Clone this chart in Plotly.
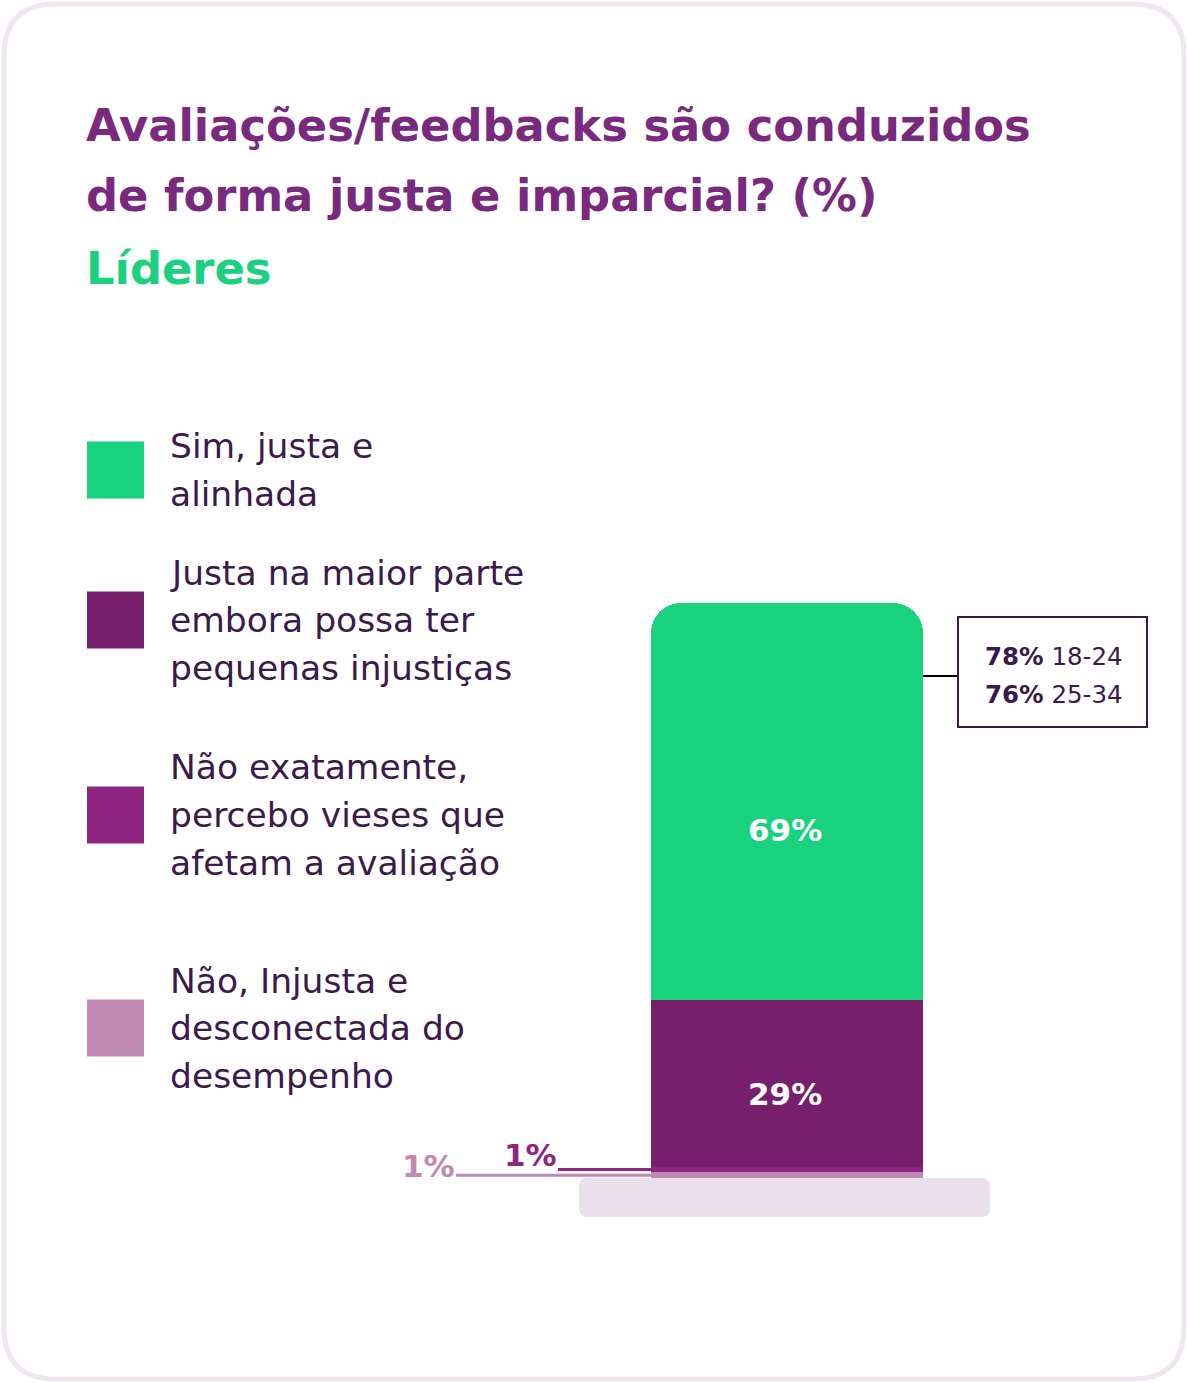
import plotly.graph_objects as go

W, H = 1188, 1383

# data (bottom to top of the stack)
categories = [
    "Não, Injusta e<br>desconectada do<br>desempenho",
    "Não exatamente,<br>percebo vieses que<br>afetam a avaliação",
    "Justa na maior parte<br>embora possa ter<br>pequenas injustiças",
    "Sim, justa e<br>alinhada",
]
values = [1, 1, 29, 69]
colors = ["#BF89B3", "#8E2581", "#771E6C", "#19D27E"]
age_values = [78, 76]
age_groups = ["18-24", "25-34"]

FONT = "DejaVu Sans"
DARK = "#3B1A4B"


def px(x):
    return x / W


def py(y):
    return 1 - y / H


def rounded_rect(x0, y0, x1, y1, r):
    return (
        f"M {px(x0 + r)},{py(y0)} L {px(x1 - r)},{py(y0)} "
        f"Q {px(x1)},{py(y0)} {px(x1)},{py(y0 + r)} "
        f"L {px(x1)},{py(y1 - r)} Q {px(x1)},{py(y1)} {px(x1 - r)},{py(y1)} "
        f"L {px(x0 + r)},{py(y1)} Q {px(x0)},{py(y1)} {px(x0)},{py(y1 - r)} "
        f"L {px(x0)},{py(y0 + r)} Q {px(x0)},{py(y0)} {px(x0 + r)},{py(y0)} Z"
    )


def label(x, y, text, size, color, anchor="center", bold=False):
    if bold:
        text = f"<b>{text}</b>"
    return dict(x=px(x), y=py(y), xref="paper", yref="paper",
                xanchor=anchor, yanchor="middle", text=text, showarrow=False,
                font=dict(family=FONT, size=size, color=color))


fig = go.Figure()

for cat, v, c in zip(categories, values, colors):
    fig.add_trace(go.Bar(
        x=["Líderes"], y=[v], name=cat.replace("<br>", " "),
        marker=dict(color=c, line=dict(width=0)),
        width=1, showlegend=False, hoverinfo="skip",
    ))

bar_left, bar_right, bar_top, bar_base = 651, 923, 603, 1178

shapes = []
# card border
shapes.append(dict(type="path", xref="paper", yref="paper",
                   path=rounded_rect(4, 4, W - 4, H - 4, 52),
                   line=dict(color="#EFE7F0", width=5), fillcolor="rgba(0,0,0,0)", layer="below"))
# platform under the bar
shapes.append(dict(type="path", xref="paper", yref="paper",
                   path=rounded_rect(579, 1178, 990, 1217, 9),
                   line=dict(width=0), fillcolor="#EBDFEC", layer="below"))

annotations = []

# title
title_lines = ["Avaliações/feedbacks são conduzidos", "de forma justa e imparcial? (%)"]
for i, t in enumerate(title_lines):
    annotations.append(label(84, 125 + 71 * i, t, 44.8, "#7A2A7E", "left", bold=True))
annotations.append(label(84, 268, "Líderes", 44.8, "#1BD07E", "left", bold=True))

# legend
legend_rows = [1028, 815, 620, 470]
for cat, c, cy in zip(categories, colors, legend_rows):
    shapes.append(dict(type="rect", xref="paper", yref="paper",
                       x0=px(87), x1=px(144), y0=py(cy - 28.5), y1=py(cy + 28.5),
                       fillcolor=c, line=dict(width=0)))
    lines = cat.split("<br>")
    top = cy - 47.5 * (len(lines) - 1) / 2
    for j, ln in enumerate(lines):
        annotations.append(label(168, top + 47.5 * j, ln, 34.5, DARK, "left"))

# value labels inside the bar
annotations.append(label(785, 830, f"{values[3]}%", 31, "white", bold=True))
annotations.append(label(785, 1094, f"{values[2]}%", 31, "white", bold=True))

# small segment labels with leader lines
annotations.append(label(530, 1155, f"{values[1]}%", 31, colors[1], bold=True))
annotations.append(label(428, 1166, f"{values[0]}%", 31, colors[0], bold=True))
shapes.append(dict(type="line", xref="paper", yref="y",
                   x0=px(558), x1=px(bar_left), y0=values[0] + values[1] / 2, y1=values[0] + values[1] / 2,
                   line=dict(color=colors[1], width=3)))
shapes.append(dict(type="line", xref="paper", yref="y",
                   x0=px(456), x1=px(bar_left), y0=values[0] / 2, y1=values[0] / 2,
                   line=dict(color=colors[0], width=3)))

# age callout
shapes.append(dict(type="line", xref="paper", yref="paper",
                   x0=px(bar_right), x1=px(958), y0=py(676), y1=py(676),
                   line=dict(color="black", width=2)))
shapes.append(dict(type="rect", xref="paper", yref="paper",
                   x0=px(958), x1=px(1147), y0=py(617), y1=py(727),
                   line=dict(color=DARK, width=2), fillcolor="white"))
for i, (v, g) in enumerate(zip(age_values, age_groups)):
    annotations.append(label(1054, 656 + 38 * i, f"<b>{v}%</b> {g}", 24.5, DARK))

fig.update_layout(
    width=W, height=H,
    margin=dict(l=0, r=0, t=0, b=0),
    paper_bgcolor="white", plot_bgcolor="rgba(0,0,0,0)",
    barmode="stack", barcornerradius=30, bargap=0,
    xaxis=dict(domain=[px(bar_left), px(bar_right)], visible=False, fixedrange=True),
    yaxis=dict(domain=[py(bar_base), py(bar_top)], range=[0, sum(values)],
               visible=False, fixedrange=True),
    shapes=shapes, annotations=annotations,
)

fig.write_html("out.html", config={"displayModeBar": False},
               post_script="document.body.style.margin='0';")
